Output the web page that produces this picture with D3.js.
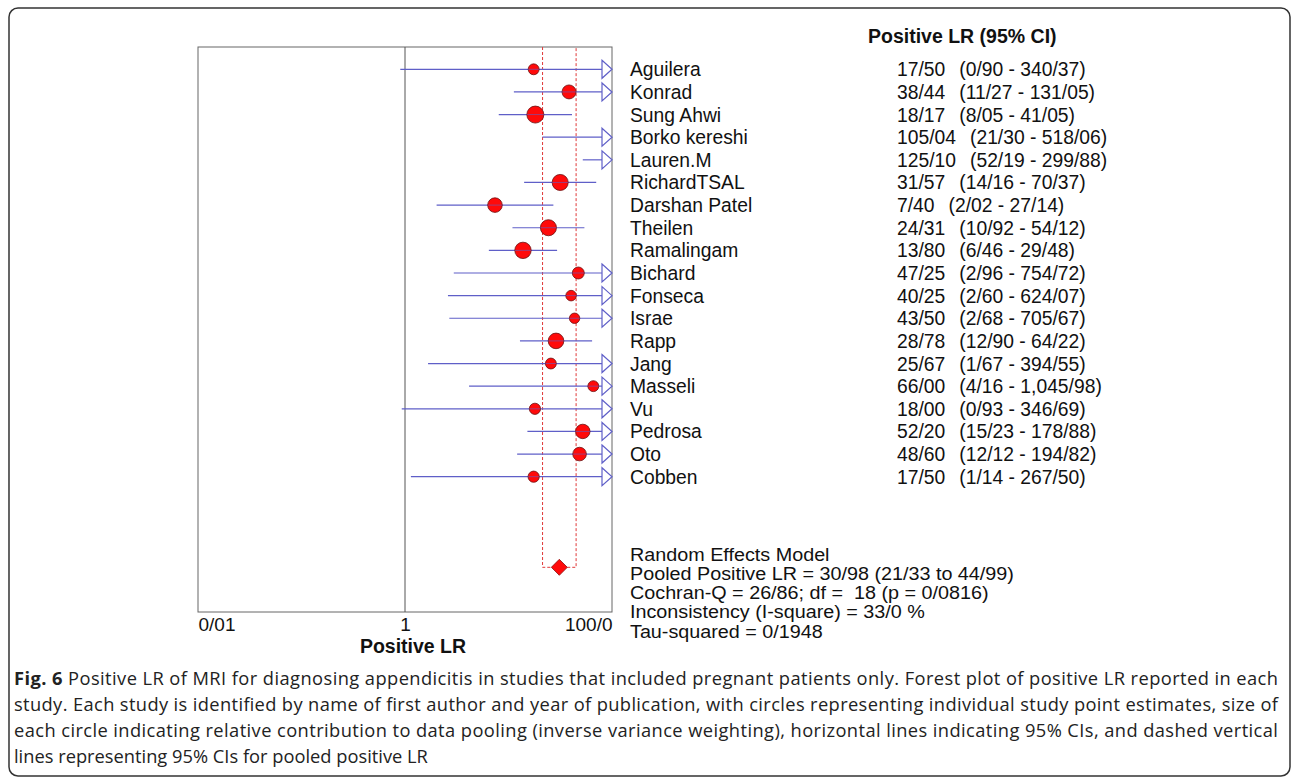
<!DOCTYPE html>
<html>
<head>
<meta charset="utf-8">
<script src="https://cdn.jsdelivr.net/npm/d3@7"></script>
<style>
  html, body { margin: 0; padding: 0; background: #fff; }
  svg { display: block; }
  .txt { font-family: "Liberation Sans", Arial, sans-serif; fill: #111; }
  .cap { font-family: "Open Sans", sans-serif; fill: #222; }
</style>
</head>
<body>
<svg id="chart" width="1293" height="780"></svg>
<script>
// study data (LR values use "/" as decimal mark in the labels)
const studies = ["Aguilera", "Konrad", "Sung Ahwi", "Borko kereshi", "Lauren.M", "RichardTSAL",
    "Darshan Patel", "Theilen", "Ramalingam", "Bichard", "Fonseca", "Israe", "Rapp", "Jang",
    "Masseli", "Vu", "Pedrosa", "Oto", "Cobben"];
const lr = [17.50, 38.44, 18.17, 105.04, 125.10, 31.57, 7.40, 24.31, 13.80, 47.25, 40.25,
    43.50, 28.78, 25.67, 66.00, 18.00, 52.20, 48.60, 17.50];
const ciLow = [0.90, 11.27, 8.05, 21.30, 52.19, 14.16, 2.02, 10.92, 6.46, 2.96, 2.60,
    2.68, 12.90, 1.67, 4.16, 0.93, 15.23, 12.12, 1.14];
const ciHigh = [340.37, 131.05, 41.05, 518.06, 299.88, 70.37, 27.14, 54.12, 29.48, 754.72, 624.07,
    705.67, 64.22, 394.55, 1045.98, 346.69, 178.88, 194.82, 267.50];
// relative weights (%)
const weights = [3.4, 5.6, 8.3, 5.0, 6.0, 7.4, 6.1, 7.4, 7.7, 4.1, 3.2, 3.1, 7.0, 3.4, 3.4, 3.6, 6.0, 5.3, 3.6];

const pooled = 30.98, pooledLow = 21.33, pooledHigh = 44.99;

const tickValues = [0.01, 1, 100];
const tickLabels = ["0/01", "1", "100/0"];

const summaryLines = [
    "Random Effects Model",
    "Pooled Positive LR = 30/98 (21/33 to 44/99)",
    "Cochran-Q = 26/86; df =  18 (p = 0/0816)",
    "Inconsistency (I-square) = 33/0 %",
    "Tau-squared = 0/1948"
];

const captionLines = [
    "Positive LR of MRI for diagnosing appendicitis in studies that included pregnant patients only. Forest plot of positive LR reported in each",
    "study. Each study is identified by name of first author and year of publication, with circles representing individual study point estimates, size of",
    "each circle indicating relative contribution to data pooling (inverse variance weighting), horizontal lines indicating 95% CIs, and dashed vertical",
    "lines representing 95% CIs for pooled positive LR"
];

const svg = d3.select("#chart");
const fmt = v => d3.format(",.2f")(v).replace(".", "/");

// outer frame
svg.append("rect")
    .attr("x", 9).attr("y", 8)
    .attr("width", 1281).attr("height", 768)
    .attr("rx", 9)
    .attr("fill", "none")
    .attr("stroke", "#333")
    .attr("stroke-width", 1.5);

const box = {left: 198, right: 612, top: 47, bottom: 612};
const x = d3.scaleLog().domain([0.01, 100]).range([box.left, box.right]);
const y = d3.scalePoint().domain(studies).range([69.3, 476.7]);
const r = d3.scaleSqrt().domain([0, d3.max(weights)]).range([0, 8.5]);
const ySummary = 567.3;

const rows = studies.map((s, i) => ({
    name: s, lr: lr[i], lo: ciLow[i], hi: ciHigh[i], w: weights[i]
}));

// plot box
svg.append("rect")
    .attr("x", box.left).attr("y", box.top)
    .attr("width", box.right - box.left).attr("height", box.bottom - box.top)
    .attr("fill", "none")
    .attr("stroke", "#666")
    .attr("stroke-width", 1);

// line of no effect
svg.append("line")
    .attr("x1", x(1)).attr("x2", x(1))
    .attr("y1", box.top).attr("y2", box.bottom)
    .attr("stroke", "#555");

// pooled CI dashed lines
const dash = svg.append("g")
    .attr("fill", "none")
    .attr("stroke", "#e03a3a")
    .attr("stroke-width", 1)
    .attr("stroke-dasharray", "3,2");
dash.append("path")
    .attr("d", `M${x(pooledLow)},${box.top}V${ySummary}H${x(pooledHigh)}V${box.top}`);

// CI lines
const ciColor = "#5f5fc8";
const ci = svg.append("g");
ci.selectAll("line")
    .data(rows)
    .enter().append("line")
    .attr("x1", d => x(d.lo))
    .attr("x2", d => d.hi > 100 ? x(100) - 10 : x(d.hi))
    .attr("y1", d => y(d.name))
    .attr("y2", d => y(d.name))
    .attr("stroke", ciColor)
    .attr("stroke-width", 1.2);

// arrows for CIs beyond the axis
ci.selectAll("path")
    .data(rows.filter(d => d.hi > 100))
    .enter().append("path")
    .attr("d", d => {
        let yy = y(d.name), xx = x(100);
        return `M${xx - 10},${yy - 9}L${xx},${yy}L${xx - 10},${yy + 9}Z`;
    })
    .attr("fill", "#fff")
    .attr("stroke", ciColor)
    .attr("stroke-width", 1.2);

// point estimates
svg.append("g")
    .selectAll("circle")
    .data(rows.filter(d => d.lr <= 100))
    .enter().append("circle")
    .attr("cx", d => x(d.lr))
    .attr("cy", d => y(d.name))
    .attr("r", d => r(d.w))
    .attr("fill", "#ff0a0a")
    .attr("stroke", "#6a1010")
    .attr("stroke-width", 0.8);

// CI line shows through the markers
svg.append("g")
    .selectAll("line")
    .data(rows.filter(d => d.lr <= 100))
    .enter().append("line")
    .attr("x1", d => x(d.lr) - r(d.w))
    .attr("x2", d => x(d.lr) + r(d.w))
    .attr("y1", d => y(d.name))
    .attr("y2", d => y(d.name))
    .attr("stroke", ciColor)
    .attr("stroke-opacity", 0.6)
    .attr("stroke-width", 1);

// pooled diamond
svg.append("path")
    .attr("d", `M${x(pooled)},${ySummary - 8}L${x(pooled) + 8},${ySummary}L${x(pooled)},${ySummary + 8}L${x(pooled) - 8},${ySummary}Z`)
    .attr("fill", "#ff0a0a")
    .attr("stroke", "#8a1010")
    .attr("stroke-width", 0.8);

// x axis
const axis = svg.append("g")
    .attr("transform", `translate(0,${box.bottom})`)
    .call(d3.axisBottom(x).tickValues(tickValues).tickSize(0).tickPadding(6)
        .tickFormat((d, i) => tickLabels[i]));
axis.select(".domain").remove();
axis.selectAll("text")
    .attr("class", "txt")
    .style("font-size", "19px")
    .attr("fill", "#111")
    .attr("text-anchor", (d, i) => i === 0 ? "start" : i === tickValues.length - 1 ? "end" : "middle");

svg.append("text")
    .attr("class", "txt")
    .attr("x", x(1) + 8).attr("y", 653)
    .attr("text-anchor", "middle")
    .style("font-size", "19.5px")
    .style("font-weight", "bold")
    .text("Positive LR");

// right-hand text
svg.append("text")
    .attr("class", "txt")
    .attr("x", 868).attr("y", 43)
    .style("font-size", "19.5px")
    .style("font-weight", "bold")
    .text("Positive LR (95% CI)");

const labels = svg.append("g").attr("class", "txt").style("font-size", "19.3px");
labels.selectAll("text.name")
    .data(rows)
    .enter().append("text")
    .attr("class", "name")
    .attr("x", 630)
    .attr("y", d => y(d.name) + 7)
    .text(d => d.name);

const valText = labels.selectAll("text.val")
    .data(rows)
    .enter().append("text")
    .attr("class", "val")
    .attr("x", 897)
    .attr("y", d => y(d.name) + 7);
valText.append("tspan").text(d => fmt(d.lr));
valText.append("tspan").attr("dx", 14).text(d => `(${fmt(d.lo)} - ${fmt(d.hi)})`);

// summary statistics: slightly wide lettering, tight line spacing
svg.append("g").attr("class", "txt").style("font-size", "17.5px")
    .selectAll("text")
    .data(summaryLines)
    .enter().append("text")
    .attr("transform", (d, i) => `translate(630,${560.5 + i * 19.3}) scale(1.13,1)`)
    .attr("xml:space", "preserve")
    .style("white-space", "pre")
    .text(d => d);

// caption, first three lines justified
const capWidth = 1264;
const cap = svg.append("g").attr("class", "cap").style("font-size", "18.3px");
cap.selectAll("text")
    .data(captionLines)
    .enter().append("text")
    .attr("x", 14)
    .attr("y", (d, i) => 685 + i * 26)
    .each(function (d, i) {
        let t = d3.select(this);
        if (i === 0) {
            t.append("tspan").style("font-weight", "bold").text("Fig. 6");
            t.append("tspan").text(" " + d);
        } else {
            t.text(d);
        }
        if (i < captionLines.length - 1) {
            t.attr("textLength", capWidth).attr("lengthAdjust", "spacing");
        }
    });
</script>
</body>
</html>
